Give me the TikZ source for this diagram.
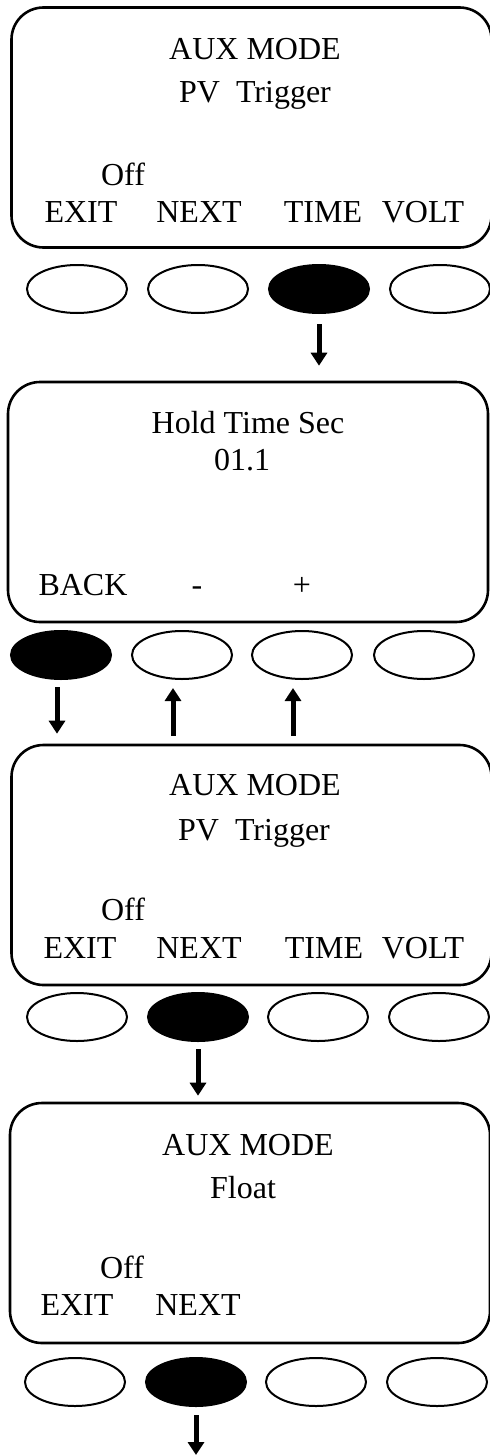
\documentclass[tikz,border=0pt]{standalone}
\usepackage{fontspec}
\setmainfont{Liberation Serif}
\usetikzlibrary{arrows.meta,positioning,calc,shapes.geometric}

\begin{document}
\begin{tikzpicture}[
  x=0.5pt, y=-0.5pt,
  screen/.style={draw, line width=1.3pt, rounded corners=16pt,
                 minimum width=240pt, minimum height=120pt, inner sep=0pt},
  key/.style={draw, ellipse, line width=1pt, minimum width=50pt,
              minimum height=24pt, inner sep=0pt},
  pressed/.style={key, fill=black},
  txt/.style={anchor=base, inner sep=0pt, font=\fontsize{16}{19}\selectfont},
  flow/.style={line width=2.5pt, -{Triangle[width=8pt,length=6.5pt]}}
]
\useasboundingbox (0,0) rectangle (489,1456);

% Screen 1
\node[screen] (s1) at (251.5,127.5) {};
\node[txt] (s1t1) at (255,59) {AUX MODE};
\node[txt] (s1t2) at (255,102) {PV~~Trigger};
\node[txt] (s1t3) at (123,185) {Off};
\node[txt] (s1k1) at (81,222) {EXIT};
\node[txt] (s1k2) at (199,222) {NEXT};
\node[txt] (s1k3) at (323,222) {TIME};
\node[txt] (s1k4) at (423,222) {VOLT};
\node[key] (b1a) at (77,289) {};
\node[key] (b1b) at (198,289) {};
\node[pressed] (b1c) at (319,289) {};
\node[key] (b1d) at (440,289) {};

% Screen 2
\node[screen] (s2) at (248,502) {};
\node[txt] (s2t1) at (248,433) {Hold Time Sec};
\node[txt] (s2t2) at (242,470) {01.1};
\node[txt] (s2k1) at (83,595) {BACK};
\node[txt] (s2k2) at (197,595) {-};
\node[txt] (s2k3) at (302,595) {+};
\node[pressed] (b2a) at (61,655) {};
\node[key] (b2b) at (182,655) {};
\node[key] (b2c) at (302,655) {};
\node[key] (b2d) at (424,655) {};

% Screen 3
\node[screen] (s3) at (251.5,865) {};
\node[txt] (s3t1) at (255,795) {AUX MODE};
\node[txt] (s3t2) at (254,840) {PV~~Trigger};
\node[txt] (s3t3) at (123,920) {Off};
\node[txt] (s3k1) at (80,958) {EXIT};
\node[txt] (s3k2) at (199,958) {NEXT};
\node[txt] (s3k3) at (324,958) {TIME};
\node[txt] (s3k4) at (423,958) {VOLT};
\node[key] (b3a) at (77,1017) {};
\node[pressed] (b3b) at (198,1017) {};
\node[key] (b3c) at (318,1017) {};
\node[key] (b3d) at (439,1017) {};

% Screen 4
\node[screen] (s4) at (250,1223) {};
\node[txt] (s4t1) at (248,1155) {AUX MODE};
\node[txt] (s4t2) at (243,1198) {Float};
\node[txt] (s4t3) at (122,1278) {Off};
\node[txt] (s4k1) at (77,1315) {EXIT};
\node[txt] (s4k2) at (198,1315) {NEXT};
\node[key] (b4a) at (75,1382) {};
\node[pressed] (b4b) at (196,1382) {};
\node[key] (b4c) at (316,1382) {};
\node[key] (b4d) at (437,1382) {};
\coordinate (out) at (196,1456);

% Key presses
\draw[flow, shorten <=5pt, shorten >=7.5pt] (b1c.south) -- (b1c.south |- s2.north);
\draw[flow, shorten <=3.5pt, shorten >=5pt]
  ($(b2a.south)+(-4,0)$) -- ($(b2a.south |- s3.north)+(-4,0)$);
\draw[flow, shorten <=4pt, shorten >=4pt]
  ($(b2b.south |- s3.north)+(-9,0)$) -- ($(b2b.south)+(-9,0)$);
\draw[flow, shorten <=4pt, shorten >=4pt]
  ($(b2c.south |- s3.north)+(-9,0)$) -- ($(b2c.south)+(-9,0)$);
\draw[flow, shorten <=3.5pt, shorten >=3pt] (b3b.south) -- (b3b.south |- s4.north);
\draw[flow, shorten <=4pt, shorten >=0.5pt] (b4b.south) -- (out);

\end{tikzpicture}
\end{document}
